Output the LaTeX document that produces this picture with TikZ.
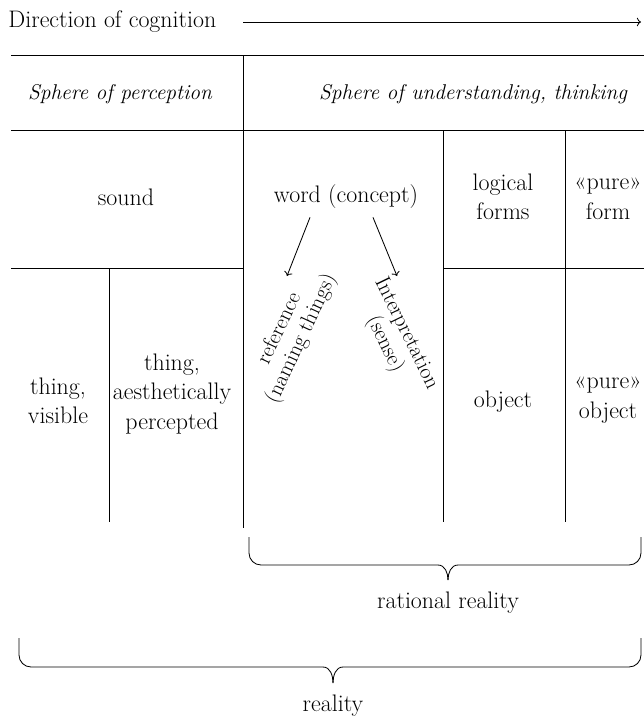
\documentclass[tikz,border=0pt]{standalone}
\usepackage{fontspec}
\usetikzlibrary{arrows.meta}

\begin{document}
\begin{tikzpicture}[x=0.025cm, y=-0.025cm, line width=0.6pt,
  txt/.style={align=center, inner sep=0pt, font=\fontsize{17}{21}\selectfont},
  head/.style={txt, font=\fontsize{15.2}{19}\selectfont\itshape},
  turned/.style={txt, font=\fontsize{15.5}{17}\selectfont}]
\useasboundingbox (0,0) rectangle (644,719);
% direction
\node[txt, anchor=west] (dir) at (8,22) {Direction of cognition};
\coordinate (dirstart) at (243,22);
\coordinate (dirend) at (641,22);
\draw[->] (dirstart) -- (dirend);
% table lines
\draw (11,55) -- (644,55);
\draw (11,130) -- (644,130);
\draw (11,268) -- (243,268);
\draw (443,268) -- (644,268);
\draw (243,55) -- (243,528);
\draw (443,130) -- (443,522);
\draw (565,130) -- (565,522);
\draw (109,268) -- (109,522);
% headings
\node[head] (perc) at (120,94) {Sphere of perception};
\node[head] (unde) at (473,94) {Sphere of understanding, thinking};
% cells
\node[txt] (sound) at (126,197) {sound};
\node[txt] (word) at (346,197) {word (concept)};
\node[txt] (logic) at (503,197) {logical\\forms};
\node[txt] (pform) at (608,199) {«pure»\\form};
\node[txt] (visible) at (58,401) {thing,\\visible};
\node[txt] (aesth) at (172,394) {thing,\\aesthetically\\percepted};
\node[txt] (object) at (503,402) {object};
\node[txt] (pobject) at (608,400) {«pure»\\object};
\node[turned, rotate=65] (refer) at (291,334) {reference\\(naming things)};
\node[turned, rotate=-64] (interp) at (395,339) {Interpretation\\(sense)};
\coordinate (refertip) at (287,276);
\coordinate (interptip) at (397,276);
\draw[->] (word.south -| 310,0) ++(0,8) -- (refertip);
\draw[->] (word.south -| 373,0) ++(0,8) -- (interptip);
% braces
\draw (249,537) -- (249,553) to[out=-90,in=180] (261,565) -- (438,565) to[out=0,in=90] (448,580);
\draw (641,537) -- (641,553) to[out=-90,in=0] (629,565) -- (458,565) to[out=180,in=90] (448,580);
\node[txt] (rational) at (448,603) {rational reality};
\draw (19,638) -- (19,655) to[out=-90,in=180] (31,667) -- (323,667) to[out=0,in=90] (333,683);
\draw (641,638) -- (641,655) to[out=-90,in=0] (629,667) -- (343,667) to[out=180,in=90] (333,683);
\node[txt] (reality) at (333,706) {reality};
\end{tikzpicture}
\end{document}
